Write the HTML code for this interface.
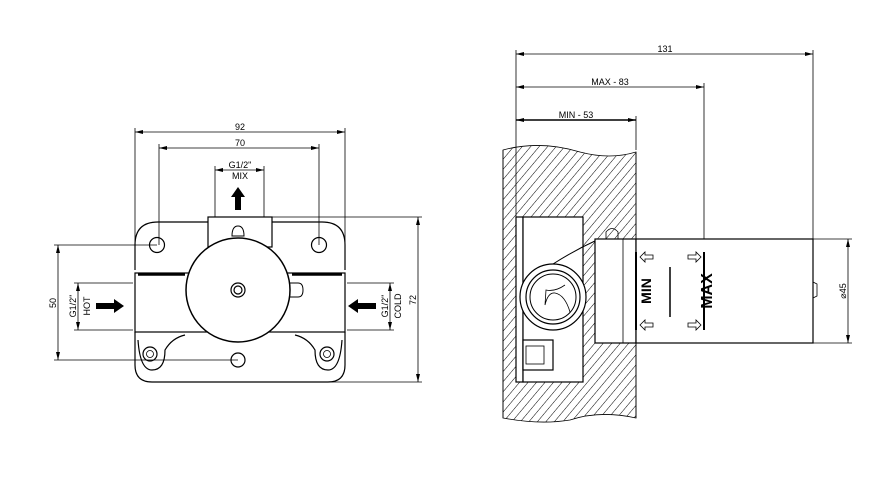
<!DOCTYPE html>
<html><head><style>body{margin:0;background:#fff}svg{display:block}text{font-family:"Liberation Sans",sans-serif;fill:#000}</style></head>
<body>
<svg width="884" height="484" viewBox="0 0 884 484" xmlns="http://www.w3.org/2000/svg">
<defs>
<pattern id="h" width="6.5" height="6.5" patternUnits="userSpaceOnUse" patternTransform="rotate(40)">
<line x1="0" y1="0" x2="0" y2="7" stroke="#000" stroke-width="1"/></pattern>
<marker id="a" markerWidth="8" markerHeight="6" refX="8" refY="3" orient="auto-start-reverse" markerUnits="userSpaceOnUse"><path d="M0,1 L8,3 L0,5z" fill="#000"/></marker>
</defs>
<g stroke="#000" stroke-width="0.8" fill="none">
<line x1="135" y1="128" x2="135" y2="270"/><line x1="345" y1="128" x2="345" y2="270"/>
<line x1="135" y1="132" x2="345" y2="132" marker-start="url(#a)" marker-end="url(#a)"/>
<line x1="159" y1="144" x2="159" y2="245"/><line x1="319" y1="144" x2="319" y2="245"/>
<line x1="159" y1="148" x2="319" y2="148" marker-start="url(#a)" marker-end="url(#a)"/>
<line x1="215" y1="166" x2="215" y2="217"/><line x1="264" y1="166" x2="264" y2="217"/>
<line x1="215" y1="170" x2="264" y2="170" marker-start="url(#a)" marker-end="url(#a)"/>
<line x1="272" y1="217" x2="422" y2="217"/><line x1="240" y1="382" x2="422" y2="382"/>
<line x1="418" y1="217" x2="418" y2="382" marker-start="url(#a)" marker-end="url(#a)"/>
<line x1="54" y1="245" x2="157" y2="245"/><line x1="54" y1="360" x2="238" y2="360"/>
<line x1="58" y1="245" x2="58" y2="360" marker-start="url(#a)" marker-end="url(#a)"/>
<line x1="74" y1="283" x2="133" y2="283"/><line x1="74" y1="330" x2="133" y2="330"/>
<line x1="78" y1="283" x2="78" y2="330" marker-start="url(#a)" marker-end="url(#a)"/>
<line x1="347" y1="283" x2="394" y2="283"/><line x1="347" y1="330" x2="394" y2="330"/>
<line x1="390" y1="283" x2="390" y2="330" marker-start="url(#a)" marker-end="url(#a)"/>
<path d="M135,270 L135,245 Q135,222 158,222 L208,222 M272,222 L322,222 Q345,222 345,245 L345,270" stroke-width="1.2"/>
<path d="M135,332 L135,365 Q135,382 152,382 L328,382 Q345,382 345,365 L345,332" stroke-width="1.2"/>
<rect x="135" y="273" width="210" height="59" stroke-width="1.2"/>
<line x1="138" y1="274.5" x2="185" y2="274.5" stroke-width="2.5"/>
<line x1="292" y1="274.5" x2="342" y2="274.5" stroke-width="2.5"/>
<rect x="208" y="217" width="64" height="30" fill="#fff" stroke-width="1.2"/>
<path d="M232,236 Q232,226 238,226 Q244,226 244,236 Z" stroke-width="1"/>
<circle cx="157" cy="245" r="7.5" stroke-width="1.2"/><circle cx="319" cy="245" r="7.5" stroke-width="1.2"/>
<circle cx="238" cy="360" r="7" stroke-width="1.2"/>
<circle cx="238" cy="290" r="52" fill="#fff" stroke-width="1.5"/>
<circle cx="238" cy="290" r="7" stroke-width="1.2"/><circle cx="238" cy="290" r="4" stroke-width="1.2"/>
<path d="M290,283 L298,283 Q303,283 303,290 Q303,297 298,297 L290,297" stroke-width="1"/>
<path d="M138,340 Q140,370 152,370 Q165,370 165,350 Q172,338 185,335" stroke-width="1.2"/>
<circle cx="150" cy="354" r="7" stroke-width="1.2"/><circle cx="150" cy="354" r="3.5"/>
<path d="M342,340 Q340,370 328,370 Q315,370 315,350 Q308,338 295,335" stroke-width="1.2"/>
<circle cx="327" cy="354" r="7" stroke-width="1.2"/><circle cx="327" cy="354" r="3.5"/>
<path d="M503,150 Q540,140 580,152 Q610,160 636,152 L636,418 Q600,410 570,420 Q540,425 503,418 Z" fill="url(#h)"/>
<line x1="503" y1="150" x2="503" y2="418"/><line x1="636" y1="152" x2="636" y2="418"/>
<line x1="516" y1="50" x2="516" y2="217"/><line x1="813" y1="50" x2="813" y2="239"/>
<line x1="704" y1="83" x2="704" y2="239"/><line x1="636" y1="116" x2="636" y2="150"/>
<line x1="516" y1="54" x2="813" y2="54" marker-start="url(#a)" marker-end="url(#a)"/>
<line x1="516" y1="87" x2="704" y2="87" marker-start="url(#a)" marker-end="url(#a)"/>
<line x1="516" y1="120" x2="636" y2="120" marker-start="url(#a)" marker-end="url(#a)" stroke-width="1.5"/>
<line x1="813" y1="239" x2="852" y2="239"/><line x1="813" y1="343" x2="852" y2="343"/>
<line x1="848" y1="239" x2="848" y2="343" marker-start="url(#a)" marker-end="url(#a)"/>
<rect x="516" y="217" width="7" height="165" fill="#fff" stroke-width="1.2"/>
<rect x="523" y="217" width="60" height="165" fill="#fff" stroke-width="1.2"/>
<rect x="523" y="340" width="30" height="30" fill="#fff" stroke-width="1.2"/>
<rect x="526" y="346" width="18" height="18"/>
<circle cx="553" cy="297" r="33" fill="#fff" stroke-width="1.2"/>
<circle cx="553" cy="297" r="27" stroke-width="1.2"/><circle cx="553" cy="297" r="23" stroke-width="1"/>
<path d="M545,305 Q548,292 555,293 Q565,295 570,312 M545,305 L546,290 Q555,292 565,285"/>
<path d="M553,264 Q575,250 597,240" stroke-width="1"/>
<path d="M606,239 L606,232 Q612,225 618,232 L618,239 Z"/>
<rect x="595" y="239" width="41" height="104" fill="#fff" stroke-width="1.2"/>
<line x1="623" y1="239" x2="623" y2="343"/>
<rect x="636" y="239" width="177" height="104" fill="#fff" stroke-width="1.2"/>
<path d="M813,282 L817,284 L817,296 L813,298"/>
<line x1="636" y1="252" x2="636" y2="330" stroke-width="2"/>
<line x1="704" y1="252" x2="704" y2="330" stroke-width="2"/>
<line x1="670" y1="267" x2="670" y2="317" stroke-width="1.5"/>
<path d="M640,257 L645,252 L645,255 L653,255 L653,259 L645,259 L645,262 Z"/>
<path d="M640,325 L645,320 L645,323 L653,323 L653,327 L645,327 L645,330 Z"/>
<path d="M701,257 L696,252 L696,255 L688,255 L688,259 L696,259 L696,262 Z"/>
<path d="M701,325 L696,320 L696,323 L688,323 L688,327 L696,327 L696,330 Z"/>
</g>
<path d="M238,187 L245,197 L241,197 L241,210 L235,210 L235,197 L231,197 Z" fill="#000"/>
<path d="M124,306 L114,299 L114,303 L96,303 L96,309 L114,309 L114,313 Z" fill="#000"/>
<path d="M348,306 L358,299 L358,303 L376,303 L376,309 L358,309 L358,313 Z" fill="#000"/>
<g font-size="9" text-anchor="middle">
<text x="240" y="130">92</text>
<text x="240" y="146">70</text>
<text x="240" y="168">G1/2"</text>
<text x="240" y="179">MIX</text>
<text transform="translate(56,303) rotate(-90)">50</text>
<text transform="translate(76,306) rotate(-90)">G1/2"</text>
<text transform="translate(90,306) rotate(-90)">HOT</text>
<text transform="translate(388,306) rotate(-90)">G1/2"</text>
<text transform="translate(401,306) rotate(-90)">COLD</text>
<text transform="translate(416,300) rotate(-90)">72</text>
<text x="665" y="52">131</text>
<text x="610" y="85">MAX - 83</text>
<text x="576" y="118">MIN - 53</text>
<text transform="translate(846,291) rotate(-90)">⌀45</text>
<text transform="translate(651,291) rotate(-90)" font-size="14" font-weight="bold">MIN</text>
<text transform="translate(712,291) rotate(-90)" font-size="16" font-weight="bold">MAX</text>
</g>
</svg>
</body></html>
